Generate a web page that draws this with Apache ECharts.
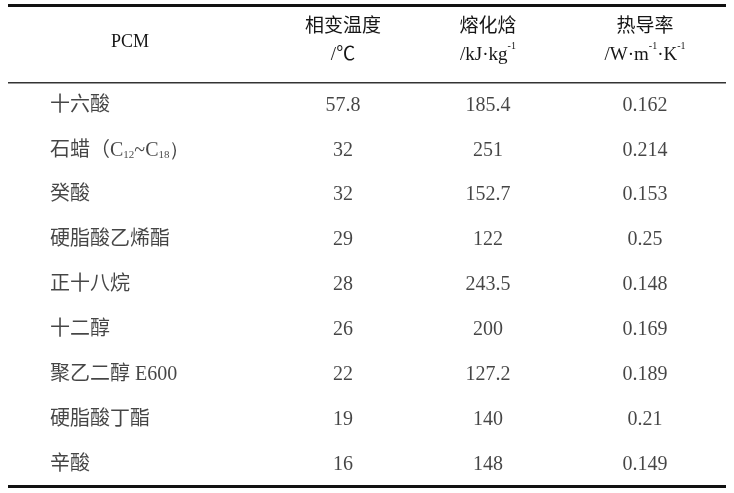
<!DOCTYPE html>
<html><head><meta charset="utf-8">
<script src="https://cdn.jsdelivr.net/npm/echarts@6/dist/echarts.min.js"></script>
<style>html,body{margin:0;background:#fff}#c{width:734px;height:493px}</style>
</head><body><div id="c"></div>
<script>
var names = ['十六酸', '石蜡（{s|C}{sub|12}{s|~C}{sub|18}{s|）}', '癸酸', '硬脂酸乙烯酯', '正十八烷', '十二醇', '聚乙二醇 {s|E600}', '硬脂酸丁酯', '辛酸'];
var temps = ['57.8', '32', '32', '29', '28', '26', '22', '19', '16'];
var heats = ['185.4', '251', '152.7', '122', '243.5', '200', '127.2', '140', '148'];
var conds = ['0.162', '0.214', '0.153', '0.25', '0.148', '0.169', '0.189', '0.21', '0.149'];
var headers = ['PCM', '相变温度\n/℃', '熔化焓\n/kJ·kg{sup|-1}', '热导率\n/W·m{sup|-1}·K{sup|-1}'];

var ink = '#161616';
var serif = 'Liberation Serif';
var cjk = '"Liberation Serif","Noto Sans CJK SC"';
var rich = {
    s: {fontFamily: serif, fontSize: 20, color: ink},
    sub: {fontFamily: serif, fontSize: 11, color: ink, verticalAlign: 'bottom', padding: [8, 0, 0, 0]},
    sup: {fontFamily: serif, fontSize: 11, color: ink, verticalAlign: 'top', padding: [0, 0, 8, 0]}
};
var colX = [130, 343, 488, 645];
var rows = names.map(function (n, i) { return i; });

function colSeries(values, ci, left) {
    return {
        type: 'scatter', symbolSize: 0, silent: true,
        data: values.map(function (v, i) { return [colX[ci], i, v]; }),
        label: {
            show: true, position: 'inside',
            formatter: function (p) { return p.data[2]; },
            align: left ? 'left' : 'center',
            offset: left ? [-80, 0] : [0, 0],
            fontFamily: cjk, fontSize: 20, color: ink, rich: rich
        }
    };
}

var chart = echarts.init(document.getElementById('c'));
chart.setOption({
    animation: false,
    grid: {left: 0, right: 0, top: 83, bottom: 6},
    xAxis: {type: 'value', min: 0, max: 734, show: false},
    yAxis: {type: 'category', data: rows, inverse: true, show: false},
    series: [
        colSeries(names, 0, true),
        colSeries(temps, 1),
        colSeries(heats, 2),
        colSeries(conds, 3)
    ],
    graphic: [
        {type: 'rect', shape: {x: 8, y: 4, width: 718, height: 3}, style: {fill: '#111'}},
        {type: 'rect', shape: {x: 8, y: 82, width: 718, height: 1.5}, style: {fill: '#333'}},
        {type: 'rect', shape: {x: 8, y: 485, width: 718, height: 3}, style: {fill: '#111'}}
    ].concat(headers.map(function (h, i) {
        return {
            type: 'text', x: colX[i], y: i === 0 ? 42 : 41,
            style: {
                text: h, align: 'center', verticalAlign: 'middle',
                font: (i === 0 ? 18 : 19) + 'px ' + cjk, fill: ink, lineHeight: 28,
                rich: {sup: {fontFamily: serif, fontSize: 10, fill: ink, verticalAlign: 'top', padding: [0, 0, 8, 0]}}
            }
        };
    }))
});
</script></body></html>
